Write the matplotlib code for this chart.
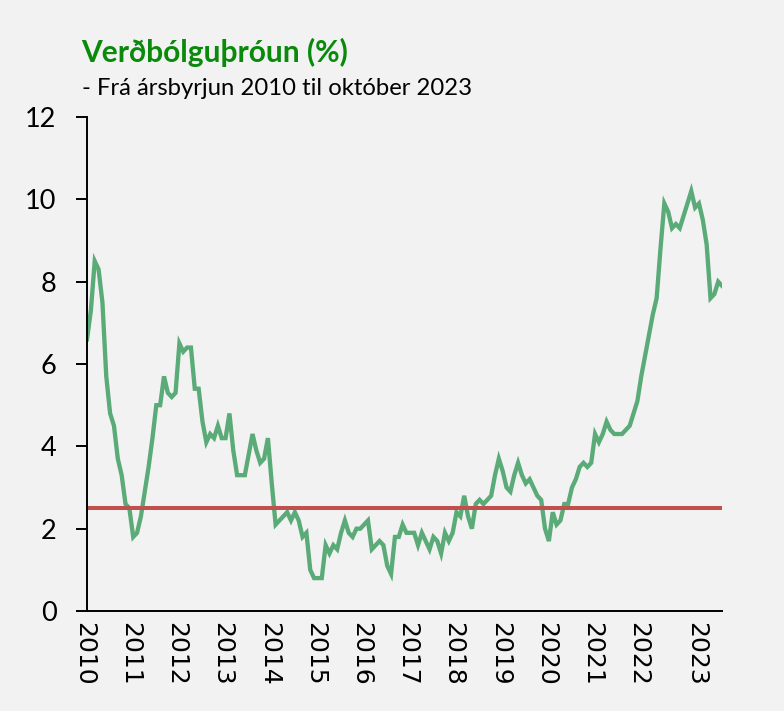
import matplotlib
matplotlib.use("Agg")
import matplotlib.pyplot as plt
import matplotlib.transforms as mtransforms
import numpy as np

# 12-month inflation (%) monthly, Jan 2010 - Oct 2023
infl_2010 = [6.6, 7.3, 8.5, 8.3, 7.5, 5.7, 4.8, 4.5, 3.7, 3.3, 2.6, 2.5]
infl_2011 = [1.8, 1.9, 2.3, 2.9, 3.5, 4.2, 5.0, 5.0, 5.7, 5.3, 5.2, 5.3]
infl_2012 = [6.5, 6.3, 6.4, 6.4, 5.4, 5.4, 4.6, 4.1, 4.3, 4.2, 4.5, 4.2]
infl_2013 = [4.2, 4.8, 3.9, 3.3, 3.3, 3.3, 3.8, 4.3, 3.9, 3.6, 3.7, 4.2]
infl_2014 = [3.1, 2.1, 2.2, 2.3, 2.4, 2.2, 2.4, 2.2, 1.8, 1.9, 1.0, 0.8]
infl_2015 = [0.8, 0.8, 1.6, 1.4, 1.6, 1.5, 1.9, 2.2, 1.9, 1.8, 2.0, 2.0]
infl_2016 = [2.1, 2.2, 1.5, 1.6, 1.7, 1.6, 1.1, 0.9, 1.8, 1.8, 2.1, 1.9]
infl_2017 = [1.9, 1.9, 1.6, 1.9, 1.7, 1.5, 1.8, 1.7, 1.4, 1.9, 1.7, 1.9]
infl_2018 = [2.4, 2.3, 2.8, 2.3, 2.0, 2.6, 2.7, 2.6, 2.7, 2.8, 3.3, 3.7]
infl_2019 = [3.4, 3.0, 2.9, 3.3, 3.6, 3.3, 3.1, 3.2, 3.0, 2.8, 2.7, 2.0]
infl_2020 = [1.7, 2.4, 2.1, 2.2, 2.6, 2.6, 3.0, 3.2, 3.5, 3.6, 3.5, 3.6]
infl_2021 = [4.3, 4.1, 4.3, 4.6, 4.4, 4.3, 4.3, 4.3, 4.4, 4.5, 4.8, 5.1]
infl_2022 = [5.7, 6.2, 6.7, 7.2, 7.6, 8.8, 9.9, 9.7, 9.3, 9.4, 9.3, 9.6]
infl_2023 = [9.9, 10.2, 9.8, 9.9, 9.5, 8.9, 7.6, 7.7, 8.0, 7.9]

inflation = (infl_2010 + infl_2011 + infl_2012 + infl_2013 + infl_2014 + infl_2015
             + infl_2016 + infl_2017 + infl_2018 + infl_2019 + infl_2020 + infl_2021
             + infl_2022 + infl_2023)
target = 2.5

year_labels = ["2010", "2011", "2012", "2013", "2014", "2015", "2016",
               "2017", "2018", "2019", "2020", "2021", "2022", "2023"]
year_ticks = [0, 12, 24, 36, 48, 60, 72, 84, 96, 108, 120, 132, 144, 159]

bg = "#f2f2f2"
fig = plt.figure(figsize=(7.84, 7.11), dpi=100, facecolor=bg)
ax = fig.add_axes([0.111, 0.1406, 0.81, 0.6948], facecolor=bg)

x = np.arange(len(inflation))
ax.plot(x, inflation, color="#5aab78", lw=3.1, solid_joinstyle="miter")
ax.axhline(target, color="#c0504d", lw=2.9)

ax.set_xlim(0, len(inflation) - 1)
ax.set_ylim(0, 12)
ax.set_yticks([0, 2, 4, 6, 8, 10, 12])
ax.set_xticks(year_ticks)
ax.set_xticklabels(year_labels, rotation=-90, fontsize=18, family="DejaVu Sans")

for s in ["top", "right"]:
    ax.spines[s].set_visible(False)
for s in ["left", "bottom"]:
    ax.spines[s].set_linewidth(1.4)
ax.tick_params(axis="y", direction="out", length=8, width=1.4, pad=14,
               labelsize=19.5)
ax.tick_params(axis="x", length=0, pad=8)
for lbl in ax.get_yticklabels():
    lbl.set_family("Lato")

offset = mtransforms.ScaledTranslation(-3 / 100, 0, fig.dpi_scale_trans)
for lbl in ax.get_xticklabels():
    lbl.set_transform(lbl.get_transform() + offset)

fig.text(0.104, 0.913, "Verðbólguþróun (%)", color="#0a8a0a", fontsize=21.5,
         fontweight="bold", family="Lato")
fig.text(0.104, 0.866, "- Frá ársbyrjun 2010 til október 2023", color="black",
         fontsize=17.2, family="Lato")

fig.savefig("out.png", dpi=100, facecolor=bg)
